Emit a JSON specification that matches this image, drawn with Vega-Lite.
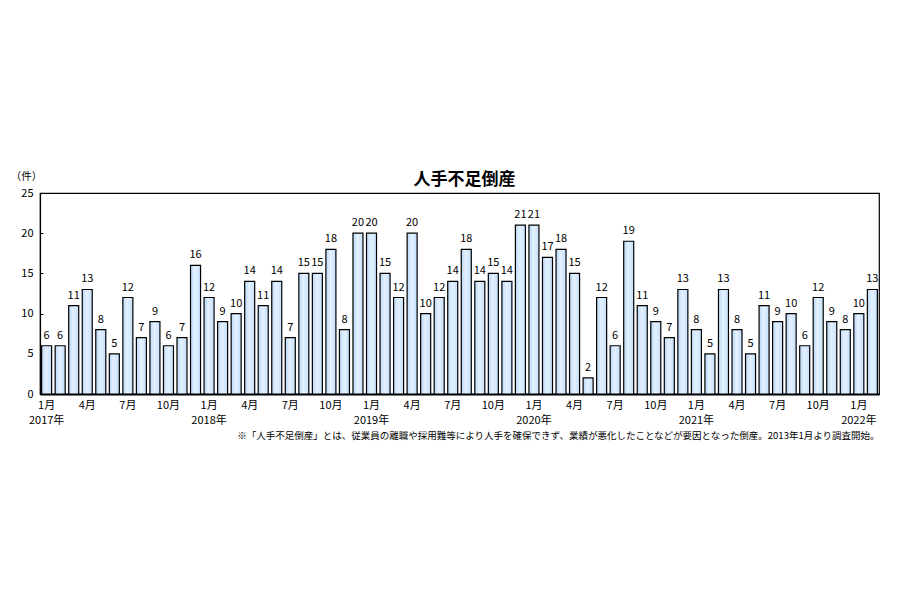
{
  "$schema": "https://vega.github.io/schema/vega-lite/v6.json",
  "autosize": {"type": "none"},
  "padding": {"left": 40, "top": 193, "right": 20, "bottom": 206},
  "width": 839,
  "height": 201,
  "background": "white",
  "title": {
    "text": "人手不足倒産",
    "anchor": "middle",
    "fontSize": 17,
    "fontWeight": "bold",
    "font": "Noto Sans CJK JP",
    "color": "black",
    "baseline": "bottom",
    "offset": -35,
    "dx": 5
  },
  "config": {
    "font": "Noto Sans CJK JP",
    "view": {"stroke": "black", "strokeWidth": 1.2},
    "axis": {"grid": false, "labelColor": "black", "titleColor": "black", "domainColor": "black", "tickColor": "black"}
  },
  "data": {
    "values": [
      {"t": "2017-01", "v": 6}, {"t": "2017-02", "v": 6}, {"t": "2017-03", "v": 11}, {"t": "2017-04", "v": 13},
      {"t": "2017-05", "v": 8}, {"t": "2017-06", "v": 5}, {"t": "2017-07", "v": 12}, {"t": "2017-08", "v": 7},
      {"t": "2017-09", "v": 9}, {"t": "2017-10", "v": 6}, {"t": "2017-11", "v": 7}, {"t": "2017-12", "v": 16},
      {"t": "2018-01", "v": 12}, {"t": "2018-02", "v": 9}, {"t": "2018-03", "v": 10}, {"t": "2018-04", "v": 14},
      {"t": "2018-05", "v": 11}, {"t": "2018-06", "v": 14}, {"t": "2018-07", "v": 7}, {"t": "2018-08", "v": 15},
      {"t": "2018-09", "v": 15}, {"t": "2018-10", "v": 18}, {"t": "2018-11", "v": 8}, {"t": "2018-12", "v": 20},
      {"t": "2019-01", "v": 20}, {"t": "2019-02", "v": 15}, {"t": "2019-03", "v": 12}, {"t": "2019-04", "v": 20},
      {"t": "2019-05", "v": 10}, {"t": "2019-06", "v": 12}, {"t": "2019-07", "v": 14}, {"t": "2019-08", "v": 18},
      {"t": "2019-09", "v": 14}, {"t": "2019-10", "v": 15}, {"t": "2019-11", "v": 14}, {"t": "2019-12", "v": 21},
      {"t": "2020-01", "v": 21}, {"t": "2020-02", "v": 17}, {"t": "2020-03", "v": 18}, {"t": "2020-04", "v": 15},
      {"t": "2020-05", "v": 2}, {"t": "2020-06", "v": 12}, {"t": "2020-07", "v": 6}, {"t": "2020-08", "v": 19},
      {"t": "2020-09", "v": 11}, {"t": "2020-10", "v": 9}, {"t": "2020-11", "v": 7}, {"t": "2020-12", "v": 13},
      {"t": "2021-01", "v": 8}, {"t": "2021-02", "v": 5}, {"t": "2021-03", "v": 13}, {"t": "2021-04", "v": 8},
      {"t": "2021-05", "v": 5}, {"t": "2021-06", "v": 11}, {"t": "2021-07", "v": 9}, {"t": "2021-08", "v": 10},
      {"t": "2021-09", "v": 6}, {"t": "2021-10", "v": 12}, {"t": "2021-11", "v": 9}, {"t": "2021-12", "v": 8},
      {"t": "2022-01", "v": 10}, {"t": "2022-02", "v": 13}
    ]
  },
  "encoding": {
    "x": {
      "field": "t",
      "type": "ordinal",
      "sort": null,
      "scale": {"paddingInner": 0.26, "paddingOuter": 0.12},
      "axis": {
        "title": "※「人手不足倒産」とは、従業員の離職や採用難等により人手を確保できず、業績が悪化したことなどが要因となった倒産。2013年1月より調査開始。",
        "titleFontSize": 9.5,
        "titleFontWeight": "normal",
        "titleAnchor": "end",
        "titlePadding": 5,
        "labelAngle": 0,
        "labelOverlap": false,
        "labelFontSize": 11,
        "labelLineHeight": 15,
        "labelPadding": 5,
        "labelBaseline": "top",
        "ticks": false,
        "domainWidth": 1.8,
        "labelExpr": "toNumber(slice(datum.value,5)) == 1 ? [toNumber(slice(datum.value,5)) + '月', slice(datum.value,0,4) + '年'] : (toNumber(slice(datum.value,5)) % 3 == 1 ? toNumber(slice(datum.value,5)) + '月' : '')"
      }
    },
    "y": {
      "field": "v",
      "type": "quantitative",
      "scale": {"domain": [0, 25]},
      "axis": {
        "values": [0, 5, 10, 15, 20, 25],
        "title": "（件）",
        "titleAngle": 0,
        "titleFontSize": 10.5,
        "titleFontWeight": "normal",
        "titleAlign": "center",
        "titleBaseline": "middle",
        "titleX": -14,
        "titleY": -17,
        "labelFontSize": 11,
        "labelPadding": 10,
        "tickSize": -3,
        "domainWidth": 1.2
      }
    }
  },
  "layer": [
    {
      "mark": {
        "type": "bar",
        "stroke": "black",
        "strokeWidth": 1.2,
        "fill": {
          "gradient": "linear",
          "x1": 0, "y1": 0, "x2": 1, "y2": 0,
          "stops": [
            {"offset": 0, "color": "#b9d8f7"},
            {"offset": 0.45, "color": "#e4f1ff"},
            {"offset": 1, "color": "#c6e0fb"}
          ]
        }
      }
    },
    {
      "mark": {"type": "text", "baseline": "bottom", "dy": -5, "fontSize": 11, "color": "black"},
      "encoding": {"text": {"field": "v", "type": "quantitative"}}
    }
  ]
}
